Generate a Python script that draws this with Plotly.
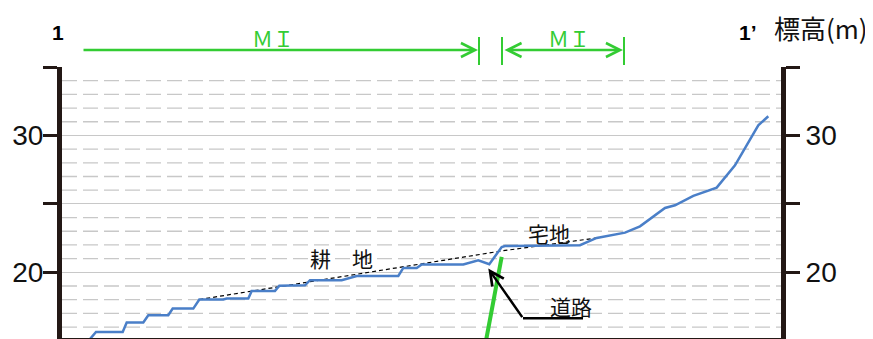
import plotly.graph_objects as go

# Ground profile (distance in m, elevation in m)
dist = [2.9, 3.6, 6.27, 6.67, 8.33, 8.83, 10.83, 11.27, 13.33, 13.93, 16.33, 16.67,
        18.83, 19.17, 21.5, 21.93, 24.5, 25.0, 28.17, 29.67, 33.83, 34.33, 35.67,
        36.17, 40.33, 41.83, 42.93, 44.17, 44.5, 52.0, 53.67, 56.5, 58.0, 60.5,
        61.5, 63.33, 65.67, 67.5, 69.83, 70.83]
elev = [15.04, 15.64, 15.64, 16.33, 16.33, 16.86, 16.86, 17.35, 17.35, 18.01, 18.01,
        18.08, 18.08, 18.64, 18.64, 19.02, 19.05, 19.42, 19.42, 19.73, 19.73, 20.32,
        20.32, 20.57, 20.57, 20.88, 20.59, 21.85, 21.92, 21.98, 22.51, 22.90, 23.36,
        24.70, 24.90, 25.58, 26.19, 27.82, 30.74, 31.40]

# original slope (dashed)
orig_dist = [13.93, 44.17, 53.67]
orig_elev = [18.01, 21.56, 22.51]

# road (green)
road_dist = [42.6, 44.17]
road_elev = [15.0, 21.12]

y_ticks = [20, 25, 30, 35]
y_labels = ["20", "", "30", ""]
minor_levels = [16, 17, 18, 19, 21, 22, 23, 24, 26, 27, 28, 29, 31, 32, 33, 34]

GREEN = "#33cc33"
BLUE = "#4a7fc8"
AXC = "#231815"
GRID = "#c8c8c8"

fig = go.Figure()
fig.add_trace(go.Scatter(x=orig_dist, y=orig_elev, mode="lines",
                         line=dict(color="black", width=1.2, dash="4px,3px"), showlegend=False))
fig.add_trace(go.Scatter(x=dist, y=elev, mode="lines",
                         line=dict(color=BLUE, width=2.5), showlegend=False))
fig.add_trace(go.Scatter(x=road_dist, y=road_elev, mode="lines",
                         line=dict(color=GREEN, width=4), showlegend=False))
fig.add_trace(go.Scatter(x=[30], y=[20], yaxis="y2", mode="markers",
                         marker=dict(opacity=0), showlegend=False, hoverinfo="skip"))

# page has an 8px body margin, so the figure is a bit smaller and shifted
OFF = 8
W, H = 873 - OFF, 339 - OFF
L, R, T, B = 62 - OFF, 92, 67 - OFF, 1
pw, ph = W - L - R, H - T - B


def px(p):
    return (p - OFF - L) / pw


def py(p):
    return (H - B - (p - OFF)) / ph


yax = dict(range=[15.2, 35], tickvals=y_ticks, ticktext=y_labels, showline=True,
           linecolor=AXC, linewidth=5, ticks="outside", ticklen=14, tickwidth=3,
           tickcolor=AXC, zeroline=False, automargin=False,
           tickfont=dict(family="Liberation Sans, Arial, sans-serif", size=28, color="#111"))

fig.update_layout(
    width=W, height=H,
    margin=dict(l=L, r=R, t=T, b=B, autoexpand=False),
    plot_bgcolor="white", paper_bgcolor="white",
    xaxis=dict(range=[0.2, 72.1], showgrid=False, zeroline=False, showticklabels=False,
               showline=True, linecolor=AXC, linewidth=1.5, ticks="", automargin=False),
    yaxis=dict(**yax, side="left", showgrid=True, gridcolor=GRID, gridwidth=1.3,
               ticklabelstandoff=-6),
    yaxis2=dict(**yax, side="right", overlaying="y", showgrid=False),
)

# dashed 1 m grid
for lv in minor_levels:
    fig.add_shape(type="line", xref="paper", yref="y", x0=0, x1=1, y0=lv, y1=lv,
                  layer="below", line=dict(color=GRID, width=1.3, dash="15px,6px"))

# MI span markers
for xb in [479, 502, 624]:
    fig.add_shape(type="line", xref="paper", yref="paper", x0=px(xb), x1=px(xb),
                  y0=py(37), y1=py(65), line=dict(color=GREEN, width=2))

fig.add_annotation(xref="paper", yref="paper", x=px(478), y=py(50), ax=-396, ay=0,
                   text="", showarrow=True, arrowhead=5, arrowsize=1.1, arrowwidth=2.5,
                   arrowcolor=GREEN)
fig.add_annotation(xref="paper", yref="paper", x=px(623), y=py(50), ax=-120, ay=0,
                   text="", showarrow=True, arrowhead=5, startarrowhead=5, arrowside="end+start",
                   arrowsize=1.1, startarrowsize=1.1, arrowwidth=2.5, arrowcolor=GREEN)

mi_font = dict(family="Noto Sans CJK JP", size=21, color=GREEN)
for cx in [273, 569]:
    fig.add_annotation(xref="paper", yref="paper", x=px(cx), y=py(38), text="ＭＩ",
                       xanchor="center", yanchor="middle", showarrow=False, font=mi_font)

# top labels
fig.add_annotation(xref="paper", yref="paper", x=px(57.5), y=py(33), text="<b>1</b>",
                   xanchor="center", yanchor="middle", showarrow=False,
                   font=dict(family="Liberation Sans", size=21, color="black"))
fig.add_annotation(xref="paper", yref="paper", x=px(737), y=py(33), xanchor="left",
                   yanchor="middle", text="<b>1’</b>", showarrow=False,
                   font=dict(family="Liberation Sans", size=21, color="black"))
fig.add_annotation(xref="paper", yref="paper", x=px(772), y=py(28), xanchor="left",
                   yanchor="middle", text="標高(m)", showarrow=False,
                   font=dict(family="Noto Sans CJK JP", size=26, color="#111"))

# in-plot labels
lab_font = dict(family="Noto Sans CJK JP", size=21, color="#111")
fig.add_annotation(x=28.1, y=21.03, text="耕　地", showarrow=False, font=lab_font)
fig.add_annotation(x=48.9, y=22.85, text="宅地", showarrow=False, font=lab_font)
fig.add_annotation(x=51.1, y=17.52, text="道路", showarrow=False, font=lab_font)

# road pointer
fig.add_shape(type="line", x0=46.3, x1=52.3, y0=16.64, y1=16.64,
              line=dict(color="black", width=2.5))
fig.add_annotation(x=42.83, y=20.27, ax=35, ay=50, text="", showarrow=True,
                   arrowhead=5, arrowsize=1.1, arrowwidth=2.5, arrowcolor="black")

fig.write_html("out.html")
